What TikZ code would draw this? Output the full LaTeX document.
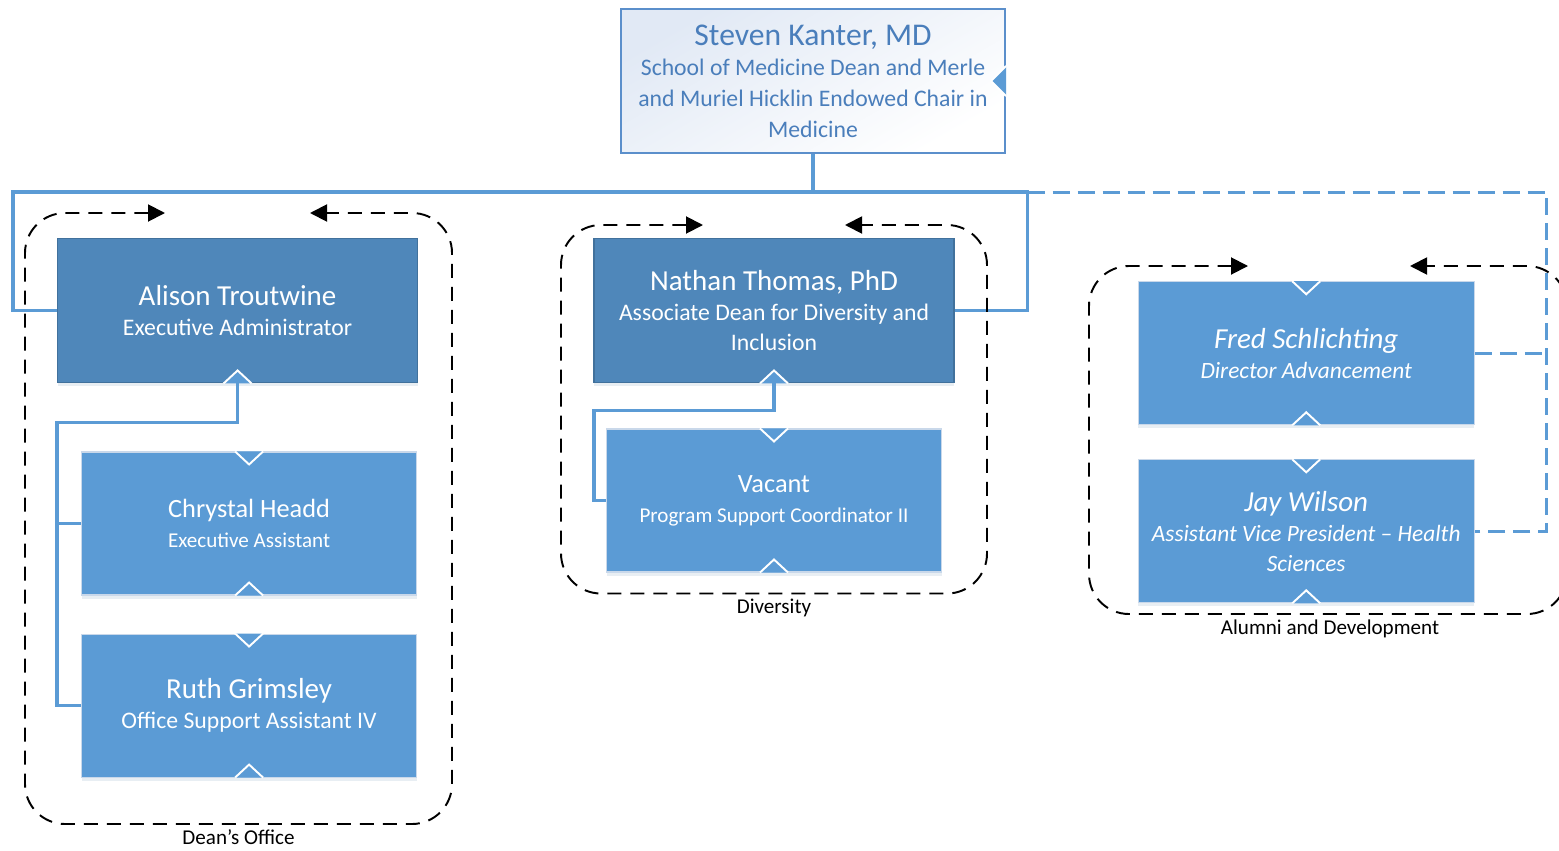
\documentclass[tikz,border=0pt]{standalone}
\usepackage{fontspec}
\setmainfont{Carlito}
\usetikzlibrary{positioning,arrows.meta,shadows}

\definecolor{conn}{HTML}{5B9BD5}
\definecolor{leadfill}{HTML}{4F87BA}
\definecolor{leadrim}{HTML}{41719C}
\definecolor{stafffill}{HTML}{5B9BD5}
\definecolor{staffrim}{HTML}{C9D8EA}
\definecolor{headrim}{HTML}{5B8FCB}
\definecolor{headtop}{HTML}{E1E9F5}
\definecolor{headtext}{HTML}{4A7EBB}

\newcommand{\pname}[2][16.5]{{\fontsize{#1}{17}\selectfont #2}}

\begin{document}
\begin{tikzpicture}[%
      >={Triangle[length=0.34cm,width=0.34cm]}, % black tips on the group frames
      node distance=1cm and 3cm,
      ]
  \tikzset{
    base/.style={rectangle, align=center, inner sep=2pt},
    head/.style={base, draw=headrim, line width=1.2pt, top color=headtop, bottom color=white,
      shading angle=30, text=headtext, minimum width=7.68cm, minimum height=2.88cm,
      font=\fontsize{13.5}{17.5}\selectfont},
    lead/.style={base, fill=leadfill, draw=leadrim, line width=0.8pt, text=white,
      minimum width=7.2cm, minimum height=2.88cm, font=\fontsize{13.5}{17}\selectfont,
      drop shadow={shadow xshift=0pt, shadow yshift=-2pt, opacity=0.12, fill=leadrim}},
    staff/.style={base, fill=stafffill, draw=staffrim, line width=0.6pt, text=white,
      minimum width=6.7cm, minimum height=2.86cm, font=\fontsize{13.5}{17}\selectfont,
      drop shadow={shadow xshift=0pt, shadow yshift=-2pt, opacity=0.12, fill=leadrim}},
    link/.style={draw=conn, line width=1.9pt},
    duty/.style={link, line width=1.7pt, dash pattern=on 0.34cm off 0.16cm},
    group/.style={draw, <->, line width=1.1pt, rounded corners=0.8cm,
      dash pattern=on 0.28cm off 0.18cm},
    grouplabel/.style={font=\fontsize{12}{14}\selectfont, inner sep=1pt},
    notch/.style={fill=conn, draw=white, line width=1.1pt},
  }
  \useasboundingbox (0,0) rectangle (31.18,-17);

  % The dean on top
  \node [head] (kanter) at (16.26,-1.62)
    {\pname[18]{Steven Kanter, MD}\\School of Medicine Dean and Merle\\
     and Muriel Hicklin Endowed Chair in\\Medicine};

  % Heads of the three units
  \node [lead, below=1.68cm of kanter, xshift=-0.78cm] (nathan)
    {\pname{Nathan Thomas, PhD}\\Associate Dean for Diversity and\\Inclusion};
  \node [lead, left=3.5cm of nathan] (alison)
    {\pname{Alison Troutwine}\\Executive Administrator};
  \node [staff, right=3.66cm of nathan, yshift=-0.85cm, minimum width=6.72cm,
         font=\itshape\fontsize{13.3}{17}\selectfont] (fred)
    {\pname{Fred Schlichting}\\Director Advancement};

  % Staff below them
  \node [staff, below=1.36cm of alison, xshift=0.23cm, font=\fontsize{12}{17}\selectfont] (chrystal)
    {\pname[15]{Chrystal Headd}\\Executive Assistant};
  \node [staff, below=0.76cm of chrystal] (ruth)
    {\pname{Ruth Grimsley}\\Office Support Assistant IV};
  \node [staff, below=0.9cm of nathan, font=\fontsize{12}{17}\selectfont] (vacant)
    {\pname[15]{Vacant}\\Program Support Coordinator II};
  \node [staff, below=0.68cm of fred, minimum width=6.72cm,
         font=\itshape\fontsize{13.3}{17}\selectfont] (jay)
    {\pname{Jay Wilson}\\Assistant Vice President – Health\\Sciences};

  % Connection marks on the boxes
  \draw [notch] ([yshift=0.3cm]kanter.east) -- ([xshift=-0.3cm]kanter.east) -- ([yshift=-0.3cm]kanter.east);
  \draw [notch] ([xshift=-0.28cm]alison.south) -- ([yshift=0.26cm]alison.south) -- ([xshift=0.28cm]alison.south);
  \draw [notch] ([xshift=-0.28cm]nathan.south) -- ([yshift=0.26cm]nathan.south) -- ([xshift=0.28cm]nathan.south);
  \draw [notch] ([xshift=-0.28cm]chrystal.north) -- ([yshift=-0.26cm]chrystal.north) -- ([xshift=0.28cm]chrystal.north);
  \draw [notch] ([xshift=-0.28cm]chrystal.south) -- ([yshift=0.26cm]chrystal.south) -- ([xshift=0.28cm]chrystal.south);
  \draw [notch] ([xshift=-0.28cm]ruth.north) -- ([yshift=-0.26cm]ruth.north) -- ([xshift=0.28cm]ruth.north);
  \draw [notch] ([xshift=-0.28cm]ruth.south) -- ([yshift=0.26cm]ruth.south) -- ([xshift=0.28cm]ruth.south);
  \draw [notch] ([xshift=-0.28cm]vacant.north) -- ([yshift=-0.26cm]vacant.north) -- ([xshift=0.28cm]vacant.north);
  \draw [notch] ([xshift=-0.28cm]vacant.south) -- ([yshift=0.26cm]vacant.south) -- ([xshift=0.28cm]vacant.south);
  \draw [notch] ([xshift=-0.28cm]fred.north) -- ([yshift=-0.26cm]fred.north) -- ([xshift=0.28cm]fred.north);
  \draw [notch] ([xshift=-0.28cm]fred.south) -- ([yshift=0.26cm]fred.south) -- ([xshift=0.28cm]fred.south);
  \draw [notch] ([xshift=-0.28cm]jay.north) -- ([yshift=-0.26cm]jay.north) -- ([xshift=0.28cm]jay.north);
  \draw [notch] ([xshift=-0.28cm]jay.south) -- ([yshift=0.26cm]jay.south) -- ([xshift=0.28cm]jay.south);

  % Reporting lines
  \coordinate (bus) at ([yshift=-0.76cm]kanter.south);
  \draw [link] (kanter.south) -- (bus) -| ([xshift=-0.88cm]alison.west) -- (alison.west);
  \draw [link] (bus) -| ([xshift=1.46cm]nathan.east) -- (nathan.east);
  \draw [duty] ([xshift=1.46cm]nathan.east |- bus) -| ([xshift=1.44cm]jay.east) -- (jay.east);
  \draw [duty] (fred.east) -- ([xshift=1.44cm]fred.east);
  \draw [link] (alison.south) -- ++(0,-0.78) -| ([xshift=-0.48cm]ruth.west) -- (ruth.west);
  \draw [link] ([xshift=-0.48cm]chrystal.west) -- (chrystal.west);
  \draw [link] (nathan.south) -- ++(0,-0.54) -| ([xshift=-0.24cm]vacant.west) -- (vacant.west);

  % Unit frames
  \draw [group] (3.3,-4.26) -| (0.5,-16.48) -| (9.04,-4.26) -- (6.2,-4.26);
  \draw [group] (14.06,-4.5) -| (11.22,-11.87) -| (19.74,-4.5) -- (16.9,-4.5);
  \draw [group] (24.96,-5.32) -| (21.78,-12.28) -| (31.34,-5.32) -- (28.2,-5.32);
  \node [grouplabel, below=2pt] (deanlbl) at (4.77,-16.48) {Dean’s Office};
  \node [grouplabel, below=2pt] (divlbl)  at (15.48,-11.87) {Diversity};
  \node [grouplabel, below=2pt] (alumlbl) at (26.6,-12.28) {Alumni and Development};
\end{tikzpicture}
\end{document}
